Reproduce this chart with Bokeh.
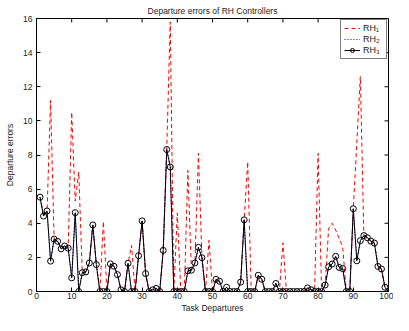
import math
from bokeh.plotting import figure
from bokeh.models import Range1d, FixedTicker
from bokeh.embed import file_html
from bokeh.resources import INLINE

# ---------------- data ----------------
task = list(range(1, 101))

rh1 = [5.53, 4.42, 4.72, 11.2, 3.07, 2.94, 2.50, 2.67, 2.54, 10.5,
       5.30, 7.00, 1.10, 1.15, 1.67, 3.90, 1.58, 0.00, 4.10, 0.00,
       1.62, 1.48, 0.99, 0.10, 0.00, 1.65, 2.70, 0.00, 2.10, 4.14,
       1.05, 0.00, 0.10, 0.18, 0.00, 2.41, 8.32, 15.8, 0.00, 4.60,
       0.00, 0.00, 7.10, 1.25, 1.67, 8.10, 1.98, 0.00, 3.00, 0.00,
       0.71, 0.60, 0.00, 0.25, 0.00, 0.00, 0.00, 0.55, 4.20, 7.60,
       0.00, 0.00, 0.95, 0.72, 0.00, 0.00, 0.00, 0.47, 0.00, 2.85,
       0.00, 0.00, 0.00, 0.00, 0.00, 0.00, 0.21, 0.10, 0.00, 8.10,
       0.00, 0.38, 3.70, 4.00, 3.60, 3.10, 2.60, 0.00, 0.00, 4.85,
       8.70, 12.6, 3.28, 3.15, 2.95, 2.84, 1.47, 1.32, 0.25, 0.00]

rh2 = [5.53, 4.42, 4.72, 1.78, 3.07, 2.94, 2.50, 2.67, 2.54, 0.80,
       4.62, 0.00, 1.10, 1.15, 1.67, 3.90, 1.58, 0.00, 0.00, 0.00,
       1.62, 1.48, 0.99, 0.10, 0.00, 1.65, 0.00, 0.00, 2.10, 4.14,
       1.05, 0.00, 0.10, 0.18, 0.00, 2.41, 8.32, 7.30, 0.00, 0.00,
       0.00, 0.00, 1.21, 1.25, 1.67, 2.59, 1.98, 0.00, 0.00, 0.00,
       0.71, 0.60, 0.00, 0.25, 0.00, 0.00, 0.00, 0.55, 4.20, 0.00,
       0.00, 0.00, 0.95, 0.72, 0.00, 0.00, 0.00, 0.47, 0.00, 0.00,
       0.00, 0.00, 0.00, 0.00, 0.00, 0.00, 0.21, 0.10, 0.00, 0.00,
       0.00, 0.38, 1.45, 1.61, 2.06, 1.41, 1.34, 0.00, 0.00, 4.85,
       1.80, 2.98, 3.28, 3.15, 2.95, 2.84, 1.47, 1.32, 0.25, 0.00]

rh3 = [5.53, 4.42, 4.72, 1.78, 3.07, 2.94, 2.50, 2.67, 2.54, 0.80,
       4.62, 0.00, 1.10, 1.15, 1.67, 3.90, 1.58, 0.00, 0.00, 0.00,
       1.62, 1.48, 0.99, 0.10, 0.00, 1.65, 0.00, 0.00, 2.10, 4.14,
       1.05, 0.00, 0.10, 0.18, 0.00, 2.41, 8.32, 7.30, 0.00, 0.00,
       0.00, 0.00, 1.21, 1.25, 1.67, 2.59, 1.98, 0.00, 0.00, 0.00,
       0.71, 0.60, 0.00, 0.25, 0.00, 0.00, 0.00, 0.55, 4.20, 0.00,
       0.00, 0.00, 0.95, 0.72, 0.00, 0.00, 0.00, 0.47, 0.00, 0.00,
       0.00, 0.00, 0.00, 0.00, 0.00, 0.00, 0.21, 0.10, 0.00, 0.00,
       0.00, 0.38, 1.45, 1.61, 2.06, 1.41, 1.34, 0.00, 0.00, 4.85,
       1.80, 2.98, 3.28, 3.15, 2.95, 2.84, 1.47, 1.32, 0.25, 0.00]

x_ticks = [0, 10, 20, 30, 40, 50, 60, 70, 80, 90, 100]
y_ticks = [0, 2, 4, 6, 8, 10, 12, 14, 16]
x_min, x_max = 0, 100
y_min, y_max = 0, 16

FONT = "Liberation Sans"
FS = "8.5px"

p = figure(width=393, height=315, output_backend="svg", toolbar_location=None,
           x_range=Range1d(x_min, x_max), y_range=Range1d(y_min, y_max),
           title="Departure errors of RH Controllers",
           min_border_left=36, min_border_right=5, min_border_top=18,
           min_border_bottom=22)

p.title.align = "center"
p.title.text_font = FONT
p.title.text_font_size = FS
p.title.text_font_style = "normal"
p.title.text_color = "#222222"
p.title.standoff = 5
p.title.offset = 0

p.grid.visible = False
p.outline_line_color = "black"
p.outline_line_width = 1
p.outline_line_alpha = 1

for ax, ticks in ((p.xaxis[0], x_ticks), (p.yaxis[0], y_ticks)):
    ax.ticker = FixedTicker(ticks=ticks)
    ax.major_tick_in = 4
    ax.major_tick_out = 0
    ax.minor_tick_line_color = None
    ax.axis_line_color = "black"
    ax.major_tick_line_color = "black"
    ax.major_label_text_font = FONT
    ax.major_label_text_font_size = FS
    ax.major_label_text_color = "#222222"
    ax.axis_label_text_font = FONT
    ax.axis_label_text_font_size = FS
    ax.axis_label_text_font_style = "normal"
    ax.axis_label_text_color = "#222222"

p.xaxis.major_label_standoff = 1
p.xaxis.axis_label_standoff = 1
p.yaxis.major_label_standoff = 4
p.yaxis.axis_label_standoff = 5

p.xaxis.axis_label = "Task Departures"
p.yaxis.axis_label = "Departure errors"

# ticks on top and right frame edges (MATLAB box style)
p.ray(x=x_ticks, y=[y_max] * len(x_ticks), length=4, length_units="screen",
      angle=-math.pi / 2, line_color="black", line_width=1)
p.ray(x=[x_max] * len(y_ticks), y=y_ticks, length=4, length_units="screen",
      angle=math.pi, line_color="black", line_width=1)

p.line(task, rh1, line_color="#ff0000", line_width=1, line_dash="4 3",
       legend_label="RH\u2081")
p.line(task, rh2, line_color="#0000ff", line_width=1, line_dash="1 2",
       legend_label="RH\u2082")
p.line(task, rh3, line_color="black", line_width=1, legend_label="RH\u2083")
p.scatter(task, rh3, marker="circle", size=6, line_color="black",
          fill_color=None, line_width=1, legend_label="RH\u2083")

lg = p.legend[0]
lg.location = "top_right"
lg.border_line_color = "black"
lg.border_line_width = 1
lg.background_fill_color = "white"
lg.background_fill_alpha = 1
lg.label_text_font = FONT
lg.label_text_font_size = "9px"
lg.label_text_color = "#222222"
lg.glyph_width = 16
lg.glyph_height = 10
lg.label_height = 10
lg.label_standoff = 3
lg.spacing = 1
lg.padding = 3
lg.margin = 1

open("out.html", "w").write(file_html(p, INLINE))
